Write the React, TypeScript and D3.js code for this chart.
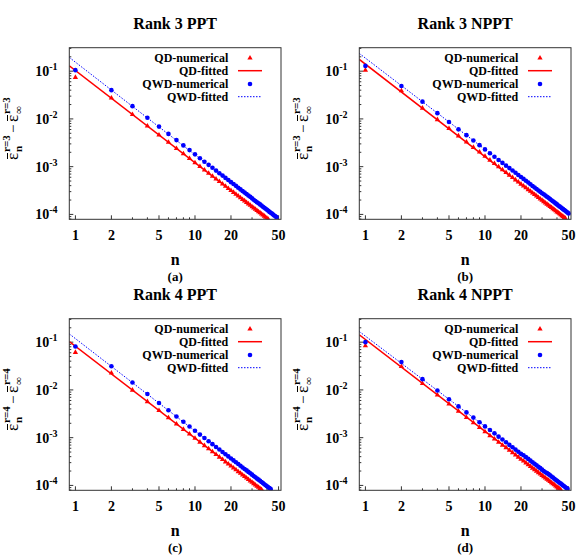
import React from 'react';
import * as d3 from 'd3';

// n = 1, 2, 3, ... for every series (index + 1)
const xDomain: [number, number] = [0.889, 52.4];
const yDomain: [number, number] = [7.9e-5, 0.31];
const xMajor = [1, 2, 5, 10, 20, 50];
const xMinor = [3, 4, 6, 7, 8, 9, 30, 40];
const yDecades = [-1, -2, -3, -4];
const legendLabels = ['QD-numerical', 'QD-fitted', 'QWD-numerical', 'QWD-fitted'];

// (a) Rank 3 PPT
const qdA = [0.074, 0.0275, 1.24e-2, 7.1e-3, 4.61e-3, 3.24e-3, 2.41e-3, 1.86e-3, 1.48e-3, 1.21e-3,
  1.01e-3, 8.51e-4, 7.29e-4, 6.32e-4, 5.53e-4, 4.88e-4, 4.35e-4, 3.89e-4, 3.5e-4, 3.17e-4,
  2.89e-4, 2.65e-4, 2.43e-4, 2.24e-4, 2.06e-4, 1.92e-4, 1.78e-4, 1.66e-4, 1.56e-4, 1.45e-4,
  1.36e-4, 1.28e-4, 1.21e-4, 1.14e-4, 1.08e-4, 1.02e-4, 9.68e-5, 9.2e-5, 8.74e-5, 8.33e-5, 7.94e-5];
const qwdA = [0.105, 0.040, 1.85e-2, 1.06e-2, 6.9e-3, 4.85e-3, 3.6e-3, 2.79e-3, 2.22e-3, 1.81e-3,
  1.5e-3, 1.27e-3, 1.09e-3, 9.46e-4, 8.27e-4, 7.3e-4, 6.5e-4, 5.82e-4, 5.24e-4, 4.74e-4,
  4.33e-4, 3.96e-4, 3.63e-4, 3.34e-4, 3.08e-4, 2.86e-4, 2.66e-4, 2.48e-4, 2.33e-4, 2.17e-4,
  2.03e-4, 1.91e-4, 1.8e-4, 1.71e-4, 1.62e-4, 1.53e-4, 1.45e-4, 1.38e-4, 1.31e-4, 1.25e-4,
  1.19e-4, 1.13e-4, 1.08e-4, 1.04e-4, 9.92e-5, 9.52e-5, 9.13e-5, 8.76e-5];
const qdFitA: [number, number][] = [[0.889, 0.129], [52.4, 4.95e-5]];
const qwdFitA: [number, number][] = [[0.889, 0.194], [52.4, 7.13e-5]];

// (b) Rank 3 NPPT
const qdB = [0.105, 0.0387, 1.68e-2, 9.65e-3, 6.27e-3, 4.41e-3, 3.28e-3, 2.53e-3, 2.02e-3, 1.65e-3,
  1.37e-3, 1.16e-3, 9.91e-4, 8.6e-4, 7.52e-4, 6.64e-4, 5.91e-4, 5.29e-4, 4.76e-4, 4.31e-4,
  3.93e-4, 3.6e-4, 3.3e-4, 3.04e-4, 2.8e-4, 2.6e-4, 2.42e-4, 2.25e-4, 2.11e-4, 1.97e-4,
  1.85e-4, 1.74e-4, 1.64e-4, 1.55e-4, 1.47e-4, 1.39e-4, 1.32e-4, 1.25e-4, 1.19e-4, 1.13e-4,
  1.08e-4, 1.03e-4, 9.84e-5, 9.42e-5, 9.02e-5, 8.65e-5, 8.3e-5];
const qwdB = [0.129, 0.049, 2.3e-2, 1.32e-2, 8.6e-3, 6.05e-3, 4.57e-3, 3.54e-3, 2.82e-3, 2.3e-3,
  1.91e-3, 1.61e-3, 1.38e-3, 1.2e-3, 1.05e-3, 9.34e-4, 8.31e-4, 7.45e-4, 6.7e-4, 6.07e-4,
  5.54e-4, 5.06e-4, 4.65e-4, 4.27e-4, 3.94e-4, 3.66e-4, 3.41e-4, 3.17e-4, 2.97e-4, 2.78e-4,
  2.64e-4, 2.48e-4, 2.34e-4, 2.22e-4, 2.1e-4, 1.98e-4, 1.88e-4, 1.79e-4, 1.7e-4, 1.62e-4,
  1.54e-4, 1.47e-4, 1.41e-4, 1.35e-4, 1.29e-4, 1.24e-4, 1.19e-4, 1.14e-4, 1.09e-4, 1.05e-4];
const qdFitB: [number, number][] = [[0.889, 0.176], [52.4, 6.58e-5]];
const qwdFitB: [number, number][] = [[0.889, 0.235], [52.4, 9.66e-5]];

// (c) Rank 4 PPT
const qdC = [0.061, 0.0225, 9.89e-3, 5.68e-3, 3.69e-3, 2.6e-3, 1.93e-3, 1.49e-3, 1.19e-3, 9.68e-4,
  8.05e-4, 6.81e-4, 5.83e-4, 5.06e-4, 4.42e-4, 3.91e-4, 3.48e-4, 3.11e-4, 2.8e-4, 2.54e-4,
  2.32e-4, 2.12e-4, 1.94e-4, 1.79e-4, 1.65e-4, 1.53e-4, 1.43e-4, 1.33e-4, 1.24e-4, 1.16e-4,
  1.09e-4, 1.02e-4, 9.64e-5, 9.15e-5, 8.65e-5, 8.17e-5];
const qwdC = [0.081, 0.0312, 1.43e-2, 8.2e-3, 5.33e-3, 3.75e-3, 2.78e-3, 2.15e-3, 1.71e-3, 1.4e-3,
  1.16e-3, 9.83e-4, 8.43e-4, 7.31e-4, 6.39e-4, 5.64e-4, 5.02e-4, 4.5e-4, 4.05e-4, 3.67e-4,
  3.34e-4, 3.06e-4, 2.81e-4, 2.58e-4, 2.38e-4, 2.21e-4, 2.06e-4, 1.92e-4, 1.8e-4, 1.68e-4,
  1.57e-4, 1.48e-4, 1.39e-4, 1.32e-4, 1.25e-4, 1.18e-4, 1.12e-4, 1.06e-4, 1.01e-4, 9.63e-5,
  9.17e-5, 8.76e-5, 8.37e-5];
const qdFitC: [number, number][] = [[0.889, 0.103], [52.4, 4.05e-5]];
const qwdFitC: [number, number][] = [[0.889, 0.149], [52.4, 5.61e-5]];

// (d) Rank 4 NPPT
const qdD = [0.084, 0.031, 1.36e-2, 7.79e-3, 5.06e-3, 3.56e-3, 2.64e-3, 2.05e-3, 1.63e-3, 1.33e-3,
  1.1e-3, 9.33e-4, 8.0e-4, 6.94e-4, 6.18e-4, 5.45e-4, 4.85e-4, 4.35e-4, 3.91e-4, 3.54e-4,
  3.23e-4, 2.96e-4, 2.71e-4, 2.5e-4, 2.3e-4, 2.14e-4, 1.99e-4, 1.85e-4, 1.74e-4, 1.62e-4,
  1.52e-4, 1.43e-4, 1.35e-4, 1.28e-4, 1.21e-4, 1.14e-4, 1.08e-4, 1.03e-4, 9.76e-5, 9.3e-5,
  8.87e-5, 8.46e-5, 8.08e-5];
const qwdD = [0.100, 0.0384, 1.68e-2, 9.74e-3, 6.39e-3, 4.52e-3, 3.38e-3, 2.63e-3, 2.1e-3, 1.72e-3,
  1.45e-3, 1.23e-3, 1.05e-3, 9.13e-4, 7.99e-4, 7.05e-4, 6.28e-4, 5.62e-4, 5.06e-4, 4.58e-4,
  4.27e-4, 3.91e-4, 3.59e-4, 3.3e-4, 3.04e-4, 2.83e-4, 2.63e-4, 2.45e-4, 2.3e-4, 2.14e-4,
  2.01e-4, 1.89e-4, 1.81e-4, 1.72e-4, 1.63e-4, 1.53e-4, 1.46e-4, 1.38e-4, 1.31e-4, 1.25e-4,
  1.19e-4, 1.14e-4, 1.09e-4, 1.04e-4, 9.97e-5, 9.57e-5, 9.18e-5, 8.81e-5, 8.47e-5];
const qdFitD: [number, number][] = [[0.889, 0.142], [52.4, 5.65e-5]];
const qwdFitD: [number, number][] = [[0.889, 0.167], [52.4, 7.5e-5]];

const box = { left: 69.3, right: 281, top: 47.7, bottom: 219.3 };
const font = "'Liberation Serif', 'Times New Roman', serif";
const RED = '#ff0000';
const BLUE = '#0000ff';
const AXIS = '#333';

type PanelProps = {
  id: string; dx: number; dy: number; title: string; tag: string; rank: number;
  qd: number[]; qwd: number[]; qdFit: [number, number][]; qwdFit: [number, number][];
};

// rotated y label: eps-bar with sub/superscript, minus, eps-bar with sub/superscript
const YLabel = ({ rank }: { rank: number }) => (
  <g transform="translate(18,160) rotate(-90)">
    <text x={0} y={0} fontSize={17}>ε</text>
    <line x1={1} x2={7} y1={-10.5} y2={-10.5} stroke="#000" strokeWidth={1} />
    <text x={8} y={4} fontSize={11} fontWeight="bold">n</text>
    <text x={8} y={-8} fontSize={11} fontWeight="bold">{`r=${rank}`}</text>
    <text x={27} y={0} fontSize={15}>−</text>
    <text x={38} y={0} fontSize={17}>ε</text>
    <line x1={39} x2={45} y1={-10.5} y2={-10.5} stroke="#000" strokeWidth={1} />
    <text x={46} y={4} fontSize={11}>∞</text>
    <text x={46} y={-8} fontSize={11} fontWeight="bold">{`r=${rank}`}</text>
  </g>
);

const Panel = ({ id, dx, dy, title, tag, rank, qd, qwd, qdFit, qwdFit }: PanelProps) => {
  const x = d3.scaleLog().domain(xDomain).range([box.left, box.right]);
  const y = d3.scaleLog().domain(yDomain).range([box.bottom, box.top]);
  const line = d3.line<[number, number]>().x((d) => x(d[0])).y((d) => y(d[1]));
  const tri = d3.symbol(d3.symbolTriangle, 12)() as string;
  const cx = (box.left + box.right) / 2;

  // minor y ticks, 2..9 in every decade
  const yMinor: number[] = [];
  for (let e = -5; e <= -1; e++) {
    for (let m = 2; m <= 9; m++) {
      const v = m * Math.pow(10, e);
      if (v > yDomain[0] && v < yDomain[1]) yMinor.push(v);
    }
  }

  const legendRows = [58, 70.7, 84, 96.7];
  const legTextX = 228.3;

  return (
    <g transform={`translate(${dx},${dy})`} fontFamily={font}>
      <defs>
        <clipPath id={`clip-${id}`}>
          <rect x={box.left} y={box.top} width={box.right - box.left} height={box.bottom - box.top} />
        </clipPath>
      </defs>
      <text x={cx} y={29.3} textAnchor="middle" fontSize={16} fontWeight="bold">{title}</text>

      {/* ticks */}
      <g stroke={AXIS} strokeWidth={1}>
        {xMajor.map((t) => (
          <line key={`xm${t}`} x1={x(t)} x2={x(t)} y1={box.bottom} y2={box.bottom - 4} />
        ))}
        {xMinor.map((t) => (
          <line key={`xn${t}`} x1={x(t)} x2={x(t)} y1={box.bottom} y2={box.bottom - 2} />
        ))}
        {yDecades.map((e) => (
          <line key={`ym${e}`} x1={box.left} x2={box.left + 4} y1={y(Math.pow(10, e))} y2={y(Math.pow(10, e))} />
        ))}
        {yMinor.map((v, i) => (
          <line key={`yn${i}`} x1={box.left} x2={box.left + 2} y1={y(v)} y2={y(v)} />
        ))}
      </g>

      {/* tick labels */}
      {xMajor.map((t) => (
        <text key={`xl${t}`} x={x(t)} y={240} textAnchor="middle" fontSize={14} fontWeight="bold">{t}</text>
      ))}
      {yDecades.map((e) => (
        <text key={`yl${e}`} x={57.5} y={y(Math.pow(10, e)) + 5} textAnchor="end" fontSize={14} fontWeight="bold">
          10<tspan fontSize={10} dy={-6}>{e}</tspan>
        </text>
      ))}

      <YLabel rank={rank} />

      <text x={cx} y={265} textAnchor="middle" fontSize={16} fontWeight="bold">n</text>
      <text x={cx} y={281} textAnchor="middle" fontSize={13} fontWeight="bold">{tag}</text>

      {/* data */}
      <g clipPath={`url(#clip-${id})`}>
        {qd.map((v, i) => (
          <path key={`qd${i}`} d={tri} transform={`translate(${x(i + 1)},${y(v)})`} fill={RED} />
        ))}
        <path d={line(qdFit) as string} fill="none" stroke={RED} strokeWidth={1.5} />
        {qwd.map((v, i) => (
          <circle key={`qw${i}`} cx={x(i + 1)} cy={y(v)} r={2.3} fill={BLUE} />
        ))}
        <path d={line(qwdFit) as string} fill="none" stroke={BLUE} strokeWidth={1} strokeDasharray="1.5,1.5" />
      </g>

      {/* legend */}
      {legendLabels.map((l, i) => (
        <text key={l} x={legTextX} y={legendRows[i] + 4} textAnchor="end" fontSize={12} fontWeight="bold">{l}</text>
      ))}
      <path d={tri} transform={`translate(250,${legendRows[0]})`} fill={RED} />
      <line x1={238} x2={262} y1={legendRows[1]} y2={legendRows[1]} stroke={RED} strokeWidth={1.5} />
      <circle cx={250} cy={legendRows[2]} r={2.3} fill={BLUE} />
      <line x1={238} x2={262} y1={legendRows[3]} y2={legendRows[3]} stroke={BLUE} strokeWidth={1} strokeDasharray="1.5,1.5" />

      <rect x={box.left} y={box.top} width={box.right - box.left} height={box.bottom - box.top}
        fill="none" stroke={AXIS} strokeWidth={1} />
    </g>
  );
};

export default function App() {
  return (
    <svg width={581} height={556} style={{ position: 'absolute', left: 0, top: 0, background: '#fff' }}>
      <rect width={581} height={556} fill="#fff" />
      <Panel id="a" dx={0} dy={0} title="Rank 3 PPT" tag="(a)" rank={3}
        qd={qdA} qwd={qwdA} qdFit={qdFitA} qwdFit={qwdFitA} />
      <Panel id="b" dx={290} dy={0} title="Rank 3 NPPT" tag="(b)" rank={3}
        qd={qdB} qwd={qwdB} qdFit={qdFitB} qwdFit={qwdFitB} />
      <Panel id="c" dx={0} dy={271} title="Rank 4 PPT" tag="(c)" rank={4}
        qd={qdC} qwd={qwdC} qdFit={qdFitC} qwdFit={qwdFitC} />
      <Panel id="d" dx={290} dy={271} title="Rank 4 NPPT" tag="(d)" rank={4}
        qd={qdD} qwd={qwdD} qdFit={qdFitD} qwdFit={qwdFitD} />
    </svg>
  );
}
